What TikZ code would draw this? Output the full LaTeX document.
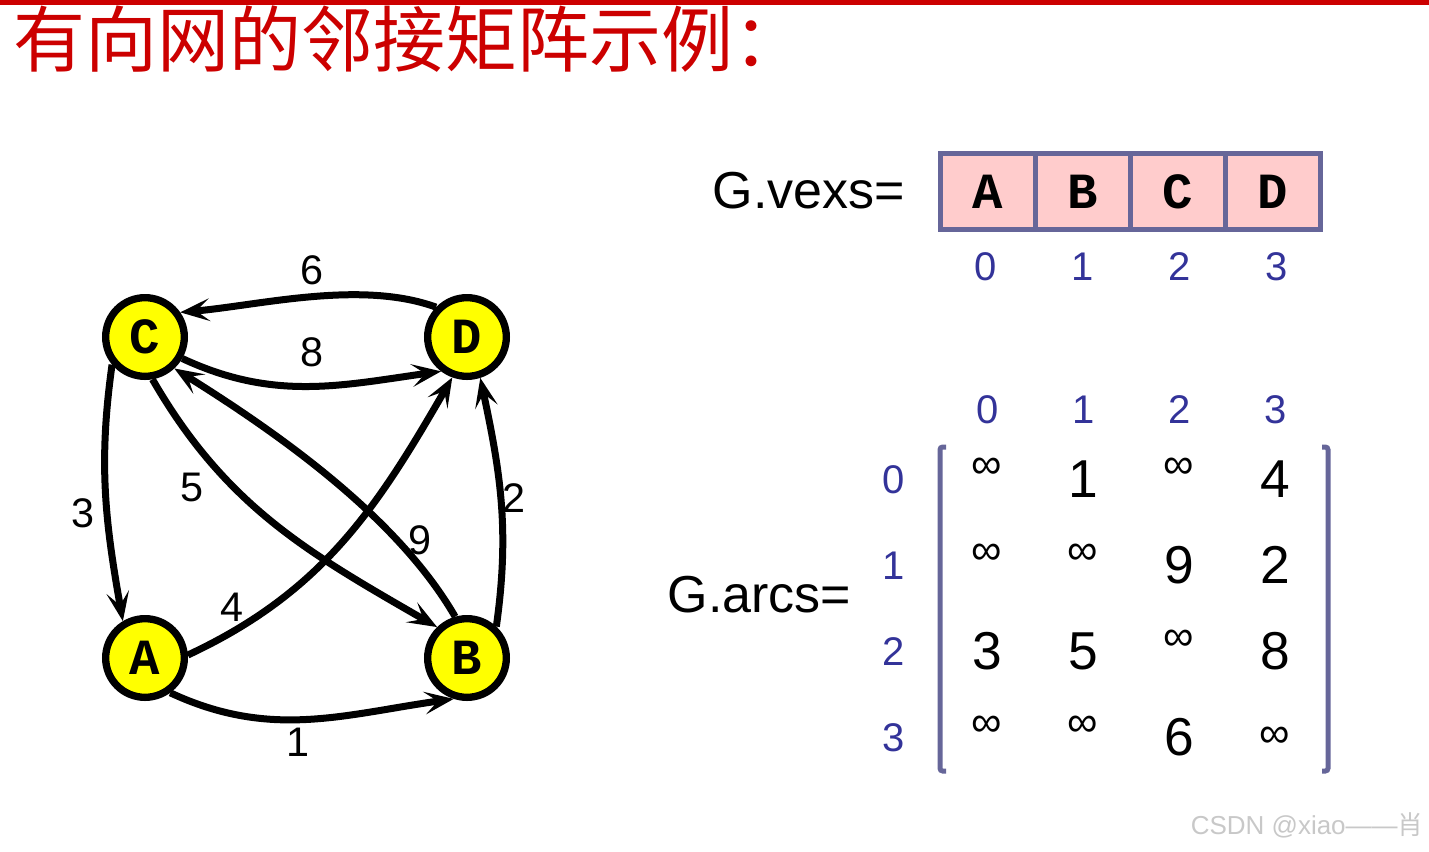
\documentclass[tikz,border=0pt]{standalone}
\usepackage{fontspec}
\setmainfont{Liberation Sans}
\newfontfamily\cjkfont{Noto Sans CJK SC}
\newfontfamily\vxfont{Liberation Mono}
\usetikzlibrary{arrows.meta}
\definecolor{titlered}{RGB}{204,0,0}
\definecolor{gridblue}{RGB}{102,102,153}
\definecolor{idxblue}{RGB}{51,51,153}
\definecolor{cellpink}{RGB}{255,204,204}
\definecolor{vxyellow}{RGB}{255,255,0}
\definecolor{wmgray}{RGB}{200,200,200}
\tikzset{
  vx/.style   ={circle, draw=black, fill=vxyellow, line width=5.5pt, minimum size=59pt, inner sep=0pt, font=\vxfont\bfseries\fontsize{38}{38}\selectfont},
  arc/.style  ={draw=black, line width=5.25pt, -{Stealth[length=22pt,width=17pt,inset=10pt]}},
  wt/.style   ={font=\fontsize{31}{31}\selectfont, inner sep=0pt},
  cell/.style ={draw=gridblue, fill=cellpink, line width=3.75pt, minimum width=71.25pt, minimum height=57pt, inner sep=0pt, font=\vxfont\bfseries\fontsize{38}{38}\selectfont},
  idx/.style  ={text=idxblue, font=\fontsize{30}{30}\selectfont, inner sep=0pt},
  num/.style  ={font=\fontsize{40}{40}\selectfont, inner sep=0pt},
  inf/.style  ={font=\fontsize{32}{32}\selectfont, inner sep=0pt},
  brk/.style  ={draw=gridblue, line width=3.75pt, rounded corners=2pt},
  big/.style  ={font=\fontsize{39}{39}\selectfont, inner sep=0pt},
}
\begin{document}
\begin{tikzpicture}[x=0.75pt,y=-0.75pt]
  \useasboundingbox (0,0) rectangle (1429,851);
  \fill[titlered] (0,0) rectangle (1429,5);
  \node[anchor=west, inner sep=0pt, text=titlered, font=\cjkfont\fontsize{54}{54}\selectfont] (title) at (13,39) {有向网的邻接矩阵示例：};

  % the net
  \node[vx] (C) at (145,337) {C};
  \node[vx] (D) at (467,337) {D};
  \node[vx] (A) at (145,658) {A};
  \node[vx] (B) at (467,658) {B};
  \draw[arc] (D.136) to[out=160,in=5,looseness=0.8] (C.35);
  \draw[arc] (C.-30) to[out=-25,in=188] (D.233);
  \draw[arc] (C.220) to[out=262,in=100] (A.121);
  \draw[arc] (C.-80) to[out=-60,in=150] (B.134);
  \draw[arc] (B.106) to[out=120,in=-32,looseness=0.8] (C.-47);
  \draw[arc] (A.4) to[out=25,in=240] (D.250);
  \draw[arc] (B.47) to[out=82,in=-78] (D.-72);
  \draw[arc] (A.-54) to[out=-25,in=188] (B.252);
  \node[wt] (w6) at (312,270) {6};
  \node[wt] (w8) at (312,352) {8};
  \node[wt] (w3) at (83,513) {3};
  \node[wt] (w5) at (192,487) {5};
  \node[wt] (w9) at (420,540) {9};
  \node[wt] (w4) at (232,607) {4};
  \node[wt] (w2) at (514,498) {2};
  \node[wt] (w1) at (298,742) {1};

  % vertex array
  \node[big] (vexs) at (809,191) {G.vexs=};
  \foreach \i/\t in {0/A,1/B,2/C,3/D}{
    \node[cell] (v\i) at (988+95*\i,191.5) {\t};
    \node[idx] (vi\i) at (986+97*\i,267) {\i};
  }

  % arc matrix
  \node[big] (arcs) at (759.5,595) {G.arcs=};
  \foreach \i in {0,...,3}{
    \node[idx] (col\i) at (988+96*\i,410) {\i};
    \node[idx] (row\i) at (894,480+86*\i) {\i};
  }
  \foreach \r/\c/\v in {0/1/1,0/3/4,1/2/9,1/3/2,2/0/3,2/1/5,2/3/8,3/2/6}
    \node[num] (m\r\c) at (987+96*\c,479+86*\r) {\v};
  \foreach \r/\c in {0/0,0/2,1/0,1/1,2/2,3/0,3/1}
    \node[inf] (m\r\c) at (987+96*\c,468+86*\r) {∞};
  \node[inf] (m33) at (1275,737) {∞};
  \draw[brk] (946,447) -| (940,771) -- (946,771);
  \draw[brk] (1322,447) -| (1328,771) -- (1322,771);

  \node[anchor=east, inner sep=0pt, text=wmgray, font=\fontsize{19.5}{19.5}\selectfont] (wm) at (1424,825) {CSDN @xiao——{\cjkfont 肖}};
\end{tikzpicture}
\end{document}
